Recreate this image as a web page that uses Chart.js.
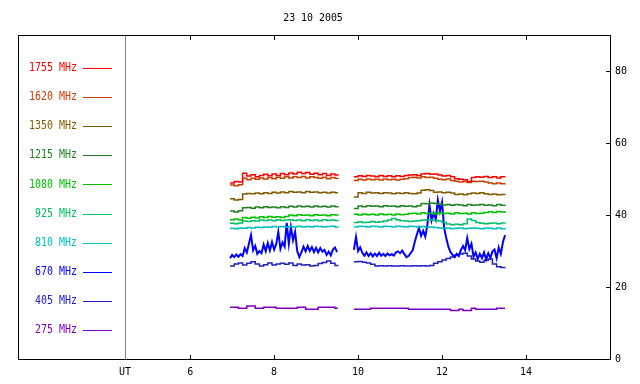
<!DOCTYPE html>
<html>
<head>
<meta charset="utf-8">
<script src="https://cdn.jsdelivr.net/npm/chart.js@4"></script>
<style>
  html, body { margin: 0; padding: 0; background: #fff; }
  #chart { display: block; }
</style>
</head>
<body>
<canvas id="chart" width="640" height="384"></canvas>
<script>
const title = '23 10 2005';
const bands = ['1755 MHz', '1620 MHz', '1350 MHz', '1215 MHz', '1080 MHz', '925 MHz', '810 MHz', '670 MHz', '405 MHz', '275 MHz'];
const colors = ['#ff0000', '#c84000', '#805a00', '#208020', '#00c000', '#00c068', '#00c0c0', '#0000ff', '#2020c0', '#8000c0'];
const xTicks = [4.45, 6, 8, 10, 12, 14];
const yTicks = [0, 20, 40, 60, 80];

// UT hours, 0.1 h grid, gap at 9.7
const ut = [6.95, 7.05, 7.15, 7.25, 7.35, 7.45, 7.55, 7.65, 7.75, 7.85, 7.95, 8.05, 8.15, 8.25, 8.35, 8.45, 8.55, 8.65, 8.75, 8.85, 8.95, 9.05, 9.15, 9.25, 9.35, 9.45, 9.52,
  9.7,
  9.9, 10.0, 10.1, 10.2, 10.3, 10.4, 10.5, 10.6, 10.7, 10.8, 10.9, 11.0, 11.1, 11.2, 11.3, 11.4, 11.5, 11.6, 11.7, 11.8, 11.9, 12.0, 12.1, 12.2, 12.3, 12.4, 12.5, 12.6, 12.7, 12.8, 12.9, 13.0, 13.1, 13.2, 13.3, 13.4, 13.5];

const f1755 = [48.9, 49.3, 49.2, 51.6, 50.8, 51.2, 50.6, 51.0, 51.3, 50.9, 51.4, 51.0, 51.5, 51.2, 51.7, 51.4, 51.9, 51.5, 51.8, 51.3, 51.6, 51.2, 51.5, 51.0, 51.4, 51.1, 51.3,
  null,
  50.6, 50.9, 50.7, 51.0, 50.8, 50.6, 51.0, 50.7, 50.9, 50.6, 50.9, 50.7, 51.0, 51.1, 51.2, 51.0, 51.4, 51.5, 51.3, 51.4, 51.1, 50.8, 51.0, 50.6, 50.1, 49.9, 49.8, 49.3, 50.4, 50.6, 50.5, 50.7, 50.4, 50.6, 50.3, 50.6, 50.7];
const f1620 = [48.3, 48.1, 48.4, 50.2, 49.8, 50.2, 49.9, 50.3, 50.0, 50.4, 50.1, 50.5, 50.2, 50.6, 50.3, 50.6, 50.4, 50.7, 50.3, 50.6, 50.4, 50.2, 50.5, 50.1, 50.4, 50.2, 50.3,
  null,
  49.6, 49.9, 49.7, 50.0, 49.8, 49.9, 49.7, 50.0, 49.8, 49.9, 49.7, 49.9, 50.1, 50.4, 50.5, 50.3, 50.6, 50.4, 50.5, 50.2, 49.9, 49.8, 50.0, 49.6, 49.4, 49.2, 49.3, 49.0, 49.4, 49.3, 49.4, 49.2, 48.9, 48.7, 48.9, 48.7, 48.8];
const f1350 = [44.5, 44.2, 44.3, 45.8, 46.0, 45.9, 46.1, 45.9, 46.2, 46.0, 46.3, 46.1, 46.4, 46.2, 46.5, 46.3, 46.4, 46.2, 46.5, 46.3, 46.4, 46.2, 46.3, 46.1, 46.3, 46.2, 46.2,
  null,
  45.0, 46.2, 46.0, 46.3, 46.1, 46.2, 46.0, 46.2, 46.1, 45.9, 46.1, 46.0, 46.2, 46.0, 45.9, 46.1, 46.9, 47.0, 46.8, 46.3, 46.4, 46.2, 46.3, 46.1, 45.7, 45.8, 45.6, 45.9, 46.1, 46.0, 46.2, 45.9, 45.7, 45.8, 45.6, 45.7, 45.6];
const f1215 = [41.1, 40.8, 41.2, 42.0, 42.1, 41.9, 42.2, 42.0, 42.3, 42.1, 42.2, 42.0, 42.3, 42.1, 42.4, 42.2, 42.5, 42.3, 42.4, 42.2, 42.5, 42.3, 42.4, 42.2, 42.5, 42.3, 42.4,
  null,
  41.8, 42.5, 42.3, 42.6, 42.4, 42.5, 42.3, 42.6, 42.4, 42.5, 42.3, 42.6, 42.4, 42.5, 42.3, 42.6, 43.2, 43.1, 43.3, 43.2, 43.0, 42.8, 42.9, 42.7, 42.9, 42.8, 42.6, 42.9, 42.7, 42.8, 42.9, 42.7, 42.8, 42.6, 42.9, 42.7, 42.8];
const f1080 = [38.7, 38.9, 38.6, 39.3, 39.1, 39.4, 39.2, 39.5, 39.3, 39.6, 39.4, 39.5, 39.3, 39.6, 40.0, 39.8, 40.1, 39.9, 40.0, 39.8, 40.1, 39.9, 40.0, 39.8, 40.1, 40.0, 40.2,
  null,
  40.2, 40.0, 40.3, 40.1, 40.2, 40.0, 40.3, 40.1, 40.2, 40.0, 40.3, 40.1, 40.2, 40.4, 40.5, 40.3, 40.6, 40.4, 40.5, 40.3, 40.6, 40.4, 40.5, 40.3, 40.6, 40.4, 40.5, 40.3, 40.6, 40.4, 40.5, 40.7, 40.9, 40.7, 41.0, 40.8, 41.1];
const f925 = [37.7, 37.6, 37.8, 38.3, 38.2, 38.4, 38.3, 38.6, 38.5, 38.6, 38.4, 38.7, 38.5, 38.6, 38.7, 38.5, 38.6, 38.4, 38.7, 38.5, 38.6, 38.4, 38.7, 38.5, 38.6, 38.5, 38.6,
  null,
  37.9, 38.1, 37.9, 38.0, 38.2, 38.0, 38.1, 38.3, 38.6, 39.0, 38.7, 38.4, 38.3, 38.2, 38.3, 38.4, 38.6, 38.7, 38.6, 38.5, 38.3, 37.9, 37.5, 37.3, 37.4, 37.3, 37.6, 38.9, 38.5, 37.9, 37.7, 37.6, 37.7, 37.8, 37.6, 37.8, 37.9];
const f810 = [36.3, 36.2, 36.4, 36.3, 36.5, 36.4, 36.6, 36.5, 36.7, 36.6, 36.8, 36.7, 36.8, 36.6, 36.8, 36.7, 36.9, 36.7, 36.8, 36.7, 36.9, 36.8, 36.7, 36.8, 36.9, 36.7, 36.8,
  null,
  36.7, 36.9, 36.8, 36.7, 36.9, 36.8, 36.7, 36.9, 36.8, 36.7, 36.9, 36.8, 36.7, 36.9, 36.8, 36.7, 36.8, 36.6, 36.7, 36.5, 36.4, 36.3, 36.4, 36.2, 36.3, 36.4, 36.2, 36.3, 36.4, 36.3, 36.2, 36.4, 36.3, 36.2, 36.4, 36.2, 36.3];
const f405 = [25.8, 26.4, 26.7, 26.1, 26.6, 27.0, 26.4, 25.8, 26.2, 26.7, 26.1, 26.4, 26.6, 26.3, 26.7, 26.0, 26.4, 26.1, 26.2, 25.8, 26.0, 26.5, 26.8, 27.2, 26.6, 26.0, 25.9,
  null,
  27.0, 27.1, 26.9, 26.7, 26.3, 25.8, 25.9, 25.8, 25.9, 25.8, 25.8, 25.9, 25.8, 25.8, 25.9, 25.8, 25.9, 25.8, 26.0, 26.6, 27.0, 27.5, 27.9, 28.3, 28.9, 29.2, 29.4, 28.6, 27.8, 27.2, 26.9, 27.4, 27.8, 26.4, 25.6, 25.4, 25.5];
const f275 = [14.4, 14.4, 14.1, 14.1, 14.7, 14.7, 14.1, 14.1, 14.4, 14.4, 14.4, 14.1, 14.1, 14.1, 14.1, 14.1, 14.4, 14.4, 13.8, 13.8, 13.8, 14.4, 14.4, 14.4, 14.4, 14.1, 14.1,
  null,
  13.8, 13.8, 13.8, 13.8, 14.1, 14.1, 14.1, 14.1, 14.1, 14.1, 14.1, 14.1, 14.1, 13.8, 13.8, 13.8, 13.8, 13.8, 13.8, 13.8, 13.8, 13.8, 13.8, 13.5, 13.5, 13.8, 13.5, 13.5, 14.1, 13.8, 13.8, 13.8, 13.8, 13.8, 14.1, 14.1, 14.1];

// 670 MHz is noisier, read on a 0.05 h grid
const utFine = [6.95, 7.00, 7.05, 7.10, 7.15, 7.20, 7.25, 7.30, 7.35, 7.40, 7.45, 7.50, 7.55, 7.60, 7.65, 7.70, 7.75, 7.80, 7.85, 7.90, 7.95, 8.00, 8.05, 8.10, 8.15, 8.20, 8.25, 8.30, 8.35, 8.40, 8.45, 8.50, 8.55, 8.60, 8.65, 8.70, 8.75, 8.80, 8.85, 8.90, 8.95, 9.00, 9.05, 9.10, 9.15, 9.20, 9.25, 9.30, 9.35, 9.40, 9.45, 9.50,
  9.70,
  9.90, 9.95, 10.00, 10.05, 10.10, 10.15, 10.20, 10.25, 10.30, 10.35, 10.40, 10.45, 10.50, 10.55, 10.60, 10.65, 10.70, 10.75, 10.80, 10.85, 10.90, 10.95, 11.00, 11.05, 11.10, 11.15, 11.20, 11.25, 11.30, 11.35, 11.40, 11.45, 11.50, 11.55, 11.60, 11.65, 11.70, 11.75, 11.80, 11.85, 11.90, 11.95, 12.00, 12.05, 12.10, 12.15, 12.20, 12.25, 12.30, 12.35, 12.40, 12.45, 12.50, 12.55, 12.60, 12.65, 12.70, 12.75, 12.80, 12.85, 12.90, 12.95, 13.00, 13.05, 13.10, 13.15, 13.20, 13.25, 13.30, 13.35, 13.40, 13.45, 13.50];
const f670 = [28.0, 28.9, 28.3, 29.0, 28.4, 29.1, 28.6, 30.8, 29.6, 32.0,
  34.4, 30.2, 31.4, 29.2, 30.0, 29.4, 31.8, 29.9, 32.2, 30.1,
  32.5, 30.4, 31.9, 35.3, 30.6, 32.4, 31.2, 37.8, 32.0, 36.7,
  33.0, 35.3, 30.0, 28.3, 29.6, 31.2, 29.9, 31.4, 30.0, 31.1,
  29.7, 30.9, 29.6, 30.8, 29.8, 30.3, 28.9, 29.8, 28.8, 30.4,
  31.0, 29.7,
  null,
  30.3, 33.9, 30.0, 31.0, 29.5, 28.7, 29.6, 28.6, 29.4, 28.5,
  29.3, 28.6, 29.5, 28.7, 29.2, 28.6, 29.3, 28.8, 29.1, 28.7,
  29.6, 29.9, 29.4, 30.1, 29.2, 28.3, 28.6, 29.4, 30.2, 32.5,
  34.6, 36.4, 34.2, 35.6, 34.0, 37.2, 42.8, 38.5, 40.5, 38.8,
  44.2, 41.0, 43.6, 36.4, 33.6, 31.2, 29.7, 28.9, 28.3, 29.2,
  28.6, 30.3, 31.4, 30.2, 33.6, 30.5, 32.0, 28.4, 29.6, 27.8,
  29.2, 28.0, 29.6, 27.6, 29.4, 28.1, 29.9, 30.4, 28.0, 31.0,
  29.2, 32.5, 34.4];

const series = [f1755, f1620, f1350, f1215, f1080, f925, f810, f670, f405, f275];

const datasets = bands.map((name, i) => {
  const noisy = series[i] === f670;
  const times = noisy ? utFine : ut;
  return {
    label: name,
    data: times.map((t, k) => ({ x: t, y: series[i][k] })),
    borderColor: colors[i],
    borderWidth: noisy ? 2 : 1.5,
    pointRadius: 0,
    stepped: !noisy,
    spanGaps: false,
    fill: false
  };
});

const frame = {
  id: 'frame',
  afterDraw(chart) {
    const { ctx, chartArea: a, scales } = chart;
    const x = scales.x, y = scales.y;
    ctx.save();
    ctx.lineWidth = 1;

    // separator behind the legend
    const gx = Math.round(x.getPixelForValue(xTicks[0])) + 0.5;
    ctx.strokeStyle = '#808080';
    ctx.beginPath();
    ctx.moveTo(gx, a.top);
    ctx.lineTo(gx, a.bottom);
    ctx.stroke();

    // box and inward ticks
    ctx.strokeStyle = '#000';
    ctx.strokeRect(a.left + 0.5, a.top + 0.5, a.right - a.left, a.bottom - a.top);
    ctx.beginPath();
    xTicks.slice(1).forEach(v => {
      const px = Math.round(x.getPixelForValue(v)) + 0.5;
      ctx.moveTo(px, a.bottom);
      ctx.lineTo(px, a.bottom - 4);
      ctx.moveTo(px, a.top);
      ctx.lineTo(px, a.top + 5);
    });
    yTicks.forEach(v => {
      const py = Math.round(y.getPixelForValue(v)) + 0.5;
      ctx.moveTo(a.right, py);
      ctx.lineTo(a.right - 4, py);
    });
    ctx.stroke();

    // title
    ctx.fillStyle = '#000';
    ctx.font = '11px "DejaVu Sans Mono"';
    ctx.textAlign = 'center';
    ctx.textBaseline = 'middle';
    ctx.save();
    ctx.translate(313, 18);
    ctx.scale(0.9, 1);
    ctx.fillText(title, 0, 0);
    ctx.restore();

    // legend
    ctx.font = '12px "DejaVu Sans Mono"';
    ctx.textAlign = 'right';
    bands.forEach((name, i) => {
      const ly = a.top + 32.7 + i * 29.18;
      ctx.fillStyle = colors[i];
      ctx.save();
      ctx.translate(77, ly);
      ctx.scale(0.83, 1);
      ctx.fillText(name, 0, 0);
      ctx.restore();
      ctx.strokeStyle = colors[i];
      ctx.beginPath();
      ctx.moveTo(83, Math.round(ly) + 0.5);
      ctx.lineTo(112, Math.round(ly) + 0.5);
      ctx.stroke();
    });
    ctx.restore();
  }
};

const tickFont = { family: 'DejaVu Sans Mono', size: 10 };

new Chart(document.getElementById('chart'), {
  type: 'line',
  data: { datasets: datasets },
  plugins: [frame],
  options: {
    responsive: false,
    animation: false,
    layout: { padding: { left: 18, top: 35, right: 0, bottom: 0 } },
    plugins: { legend: { display: false }, tooltip: { enabled: false }, title: { display: false } },
    scales: {
      x: {
        type: 'linear',
        position: 'bottom',
        min: 1.9,
        max: 16,
        afterBuildTicks: axis => { axis.ticks = xTicks.map(v => ({ value: v })); },
        afterFit: axis => { axis.height = 25; },
        grid: { display: false, drawTicks: false },
        border: { display: false },
        ticks: {
          autoSkip: false,
          maxRotation: 0,
          padding: 7,
          color: '#000',
          font: tickFont,
          callback: v => (v === xTicks[0] ? 'UT' : v)
        }
      },
      y: {
        type: 'linear',
        position: 'right',
        min: 0,
        max: 90,
        afterBuildTicks: axis => { axis.ticks = yTicks.map(v => ({ value: v })); },
        afterFit: axis => { axis.width = 30; },
        grid: { display: false, drawTicks: false },
        border: { display: false },
        ticks: { padding: 5, color: '#000', font: tickFont }
      }
    }
  }
});
</script>
</body>
</html>
